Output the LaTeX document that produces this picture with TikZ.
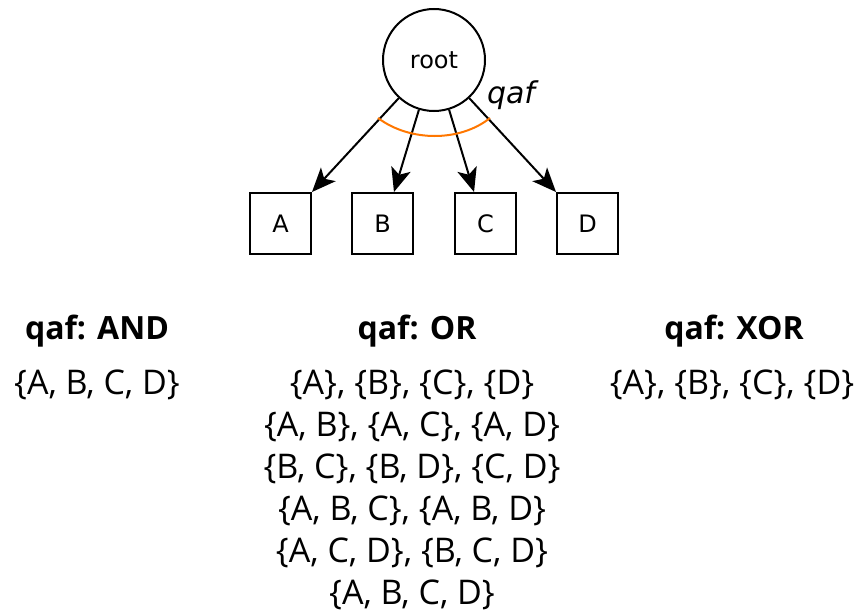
\documentclass[tikz,border=0pt]{standalone}
\usepackage{fontspec}
\setmainfont{Open Sans}
\newfontfamily\dejavu{DejaVu Sans}
\usetikzlibrary{arrows.meta}
\definecolor{qaforange}{RGB}{255,119,0}

\begin{document}
\begin{tikzpicture}[x=0.5pt, y=-0.5pt, >={Stealth[length=12pt,width=10pt,inset=3pt]},
    leaf/.style={draw, line width=1pt, minimum size=30.5pt, inner sep=0pt, font=\dejavu\fontsize{12}{14}\selectfont},
    title/.style={anchor=base, font=\bfseries\fontsize{16}{19}\selectfont},
    sets/.style={anchor=north, align=center, font=\fontsize{17}{21}\selectfont}]
  \useasboundingbox (0,0) rectangle (861,610);

  % tree
  \node[circle, draw, line width=1pt, minimum size=51pt, inner sep=0pt, font=\dejavu\fontsize{12}{14}\selectfont] (root) at (434,60) {root};
  \node[leaf] (A) at (280.5,223.5) {A};
  \node[leaf] (B) at (382.5,223.5) {B};
  \node[leaf] (C) at (485.5,223.5) {C};
  \node[leaf] (D) at (587.5,223.5) {D};
  \draw[->, line width=1pt] (root) -- (A.north east);
  \draw[->, line width=1pt] (root) -- (B.70);
  \draw[->, line width=1pt] (root) -- (C.110);
  \draw[->, line width=1pt] (root) -- (D.north west);
  \draw[qaforange, line width=1pt] (378,118) .. controls (410,142) and (460,142) .. (490,118);
  \node[font=\dejavu\itshape\fontsize{15}{18}\selectfont] (qaf) at (511,95) {qaf};

  % semantics
  \node[title] (andtitle) at (97,339) {qaf: AND};
  \node[sets] (andsets) at (97,363) {\{A, B, C, D\}};
  \node[title] (ortitle) at (417,339) {qaf: OR};
  \node[sets] (orsets) at (412,363) {\{A\}, \{B\}, \{C\}, \{D\}\\
    \{A, B\}, \{A, C\}, \{A, D\}\\
    \{B, C\}, \{B, D\}, \{C, D\}\\
    \{A, B, C\}, \{A, B, D\}\\
    \{A, C, D\}, \{B, C, D\}\\
    \{A, B, C, D\}};
  \node[title] (xortitle) at (734,339) {qaf: XOR};
  \node[sets] (xorsets) at (732,363) {\{A\}, \{B\}, \{C\}, \{D\}};
\end{tikzpicture}
\end{document}
